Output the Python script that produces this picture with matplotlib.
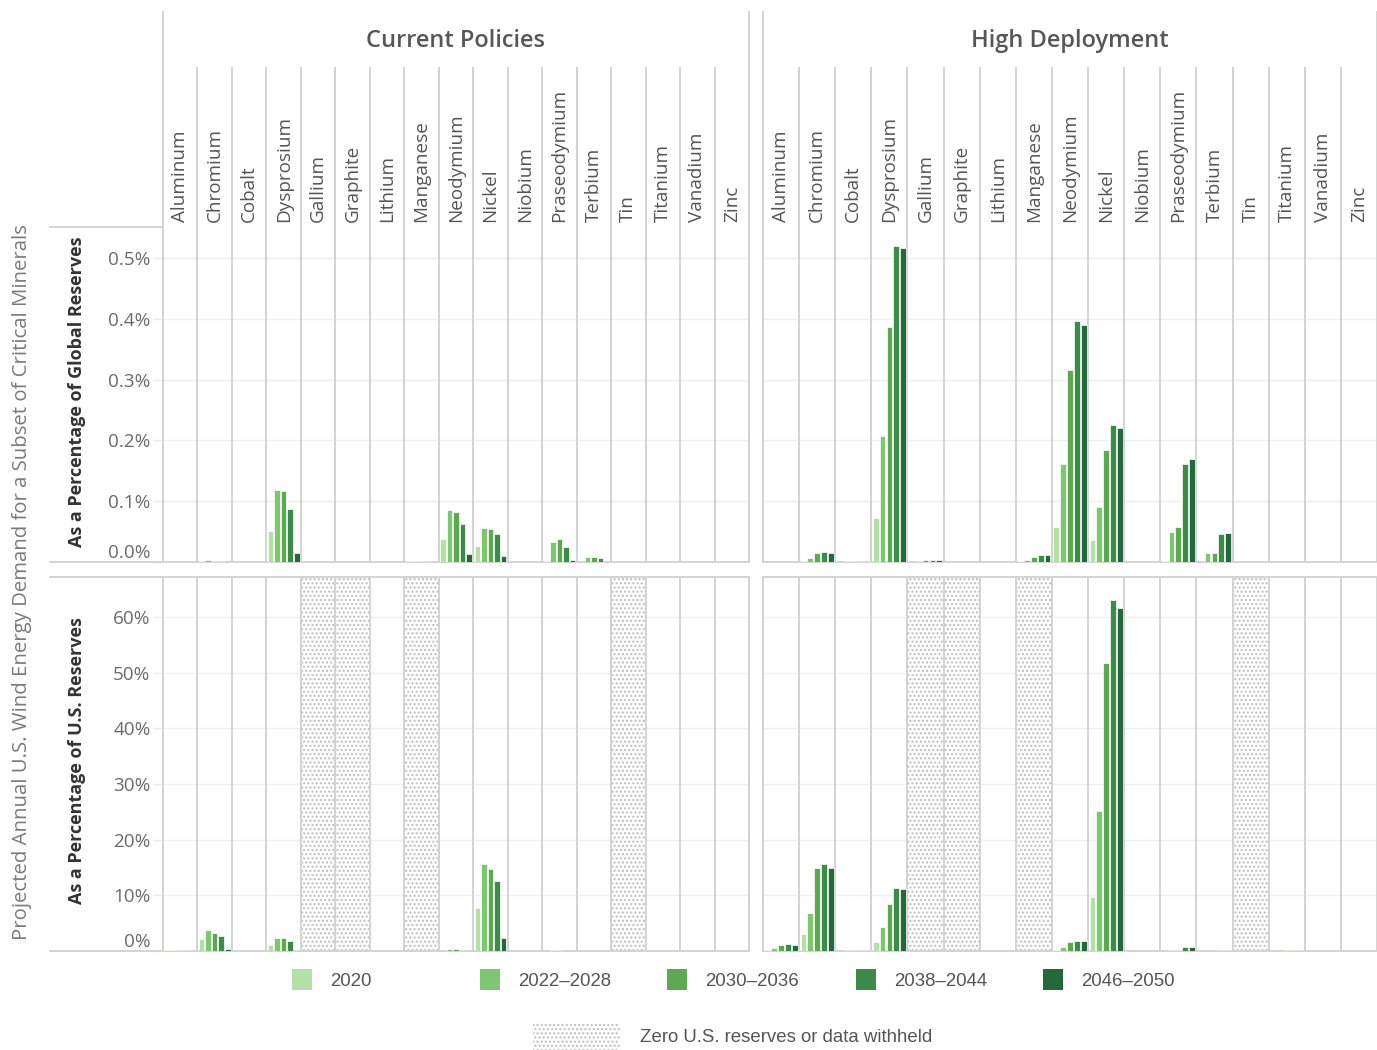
import matplotlib
matplotlib.use("Agg")
import matplotlib.pyplot as plt
import numpy as np
from matplotlib.patches import Rectangle

# ---------------------------------------------------------------- data
minerals = ["Aluminum", "Chromium", "Cobalt", "Dysprosium", "Gallium", "Graphite",
            "Lithium", "Manganese", "Neodymium", "Nickel", "Niobium", "Praseodymium",
            "Terbium", "Tin", "Titanium", "Vanadium", "Zinc"]
periods = ["2020", "2022–2028", "2030–2036", "2038–2044", "2046–2050"]
scenarios = ["Current Policies", "High Deployment"]
period_colors = ["#b3e0a6", "#7ec672", "#5ea852", "#3b8c48", "#23693b"]

# minerals with zero U.S. reserves or withheld data
no_us_reserves = ["Gallium", "Graphite", "Manganese", "Tin"]

# annual demand as % of global reserves; one row per period, one value per mineral
cp_global = [
    [0, 0.001, 0, 0.051, 0, 0, 0, 0.001, 0.038, 0.027, 0, 0.001, 0, 0, 0, 0, 0],
    [0, 0.004, 0, 0.118, 0, 0, 0, 0.001, 0.085, 0.056, 0, 0.033, 0.009, 0, 0, 0, 0],
    [0, 0.002, 0, 0.116, 0, 0, 0, 0.002, 0.082, 0.054, 0, 0.038, 0.009, 0, 0, 0, 0],
    [0, 0.002, 0, 0.087, 0, 0, 0, 0.002, 0.062, 0.046, 0, 0.025, 0.007, 0, 0, 0, 0],
    [0, 0, 0, 0.015, 0, 0, 0, 0, 0.013, 0.010, 0, 0.003, 0, 0, 0, 0, 0],
]
hd_global = [
    [0, 0.001, 0, 0.072, 0, 0, 0, 0.002, 0.058, 0.036, 0, 0.001, 0, 0, 0, 0, 0],
    [0, 0.0066, 0.002, 0.207, 0.001, 0, 0, 0.004, 0.161, 0.090, 0, 0.050, 0.015, 0, 0, 0, 0],
    [0, 0.014, 0.002, 0.387, 0.004, 0, 0, 0.009, 0.315, 0.184, 0, 0.058, 0.015, 0, 0, 0, 0],
    [0, 0.017, 0.002, 0.520, 0.004, 0, 0, 0.012, 0.397, 0.225, 0, 0.161, 0.046, 0, 0, 0, 0],
    [0, 0.014, 0.002, 0.516, 0.004, 0, 0, 0.012, 0.390, 0.220, 0, 0.169, 0.048, 0, 0, 0, 0],
]

# annual demand as % of U.S. reserves
cp_us = [
    [0.1, 2.1, 0, 1.0, 0, 0, 0, 0, 0.05, 7.8, 0, 0, 0, 0, 0, 0, 0],
    [0.1, 3.8, 0, 2.4, 0, 0, 0, 0, 0.4, 15.7, 0, 0.1, 0, 0, 0, 0, 0],
    [0.1, 3.2, 0, 2.4, 0, 0, 0, 0, 0.4, 14.8, 0, 0.1, 0, 0, 0, 0, 0],
    [0.1, 2.7, 0, 1.8, 0, 0, 0, 0, 0.15, 12.6, 0, 0, 0, 0, 0, 0, 0],
    [0, 0.4, 0, 0.15, 0, 0, 0, 0, 0, 2.4, 0, 0, 0, 0, 0, 0, 0],
]
hd_us = [
    [0.25, 3.0, 0, 1.6, 0, 0, 0, 0, 0.1, 9.7, 0, 0, 0, 0, 0, 0, 0],
    [0.5, 6.9, 0.1, 4.4, 0, 0, 0, 0, 0.7, 25.1, 0, 0.1, 0, 0, 0, 0, 0],
    [1.0, 15.0, 0.1, 8.4, 0, 0, 0, 0, 1.6, 51.8, 0, 0.1, 0, 0, 0.15, 0, 0],
    [1.3, 15.6, 0.1, 11.4, 0, 0, 0, 0, 1.85, 63.0, 0, 0.7, 0.15, 0, 0.15, 0, 0],
    [1.0, 15.0, 0.1, 11.1, 0, 0, 0, 0, 1.85, 61.6, 0, 0.7, 0.15, 0, 0.15, 0, 0],
]

global_ticks = [0.0, 0.1, 0.2, 0.3, 0.4, 0.5]
global_tick_labels = ["0.0%", "0.1%", "0.2%", "0.3%", "0.4%", "0.5%"]
us_ticks = [0, 10, 20, 30, 40, 50, 60]
us_tick_labels = ["0%", "10%", "20%", "30%", "40%", "50%", "60%"]

# ---------------------------------------------------------------- style
W, H = 1377, 1050
UI_FONT = ["Open Sans", "DejaVu Sans"]
LEGEND_FONT = ["Liberation Sans", "DejaVu Sans"]
LINE = "#d3d3d3"
GRID = "#efefef"
plt.rcParams["font.family"] = UI_FONT
plt.rcParams["hatch.linewidth"] = 1.0

fig = plt.figure(figsize=(W / 100, H / 100), dpi=100)
fig.patch.set_facecolor("white")


def px_axes(x0, y0, x1, y1):
    """Axes placed by pixel box (top-left origin)."""
    return fig.add_axes([x0 / W, 1 - y1 / H, (x1 - x0) / W, (y1 - y0) / H])


n = len(minerals)
xpos = np.arange(n)
slot = 0.19
bar_w = 0.16

panel_x = [(163, 749), (763, 1377)]
row_y = [(227, 562), (577, 951)]
row_data = [[cp_global, hd_global], [cp_us, hd_us]]
row_ylim = [0.551, 67.2]
row_ticks = [(global_ticks, global_tick_labels), (us_ticks, us_tick_labels)]

for r in range(2):
    y0, y1 = row_y[r]
    for c in range(2):
        x0, x1 = panel_x[c]
        ax = px_axes(x0, y0, x1, y1)
        ax.set_xlim(-0.5, n - 0.5)
        ax.set_ylim(0, row_ylim[r])
        ax.set_facecolor("none")

        # horizontal grid
        ticks, labels = row_ticks[r]
        for t in ticks[1:]:
            ax.axhline(t, color=GRID, lw=1.0, zorder=0)

        # column dividers
        for b in xpos[:-1] + 0.5:
            ax.axvline(b, color=LINE, lw=1.4, zorder=2)

        # zero-reserve shading in the U.S. row
        if r == 1:
            for name in no_us_reserves:
                i = minerals.index(name)
                ax.axvspan(i - 0.5, i + 0.5, facecolor="white", edgecolor="#bdbdbd",
                           hatch="....", linewidth=0, zorder=1)

        # bars
        data = row_data[r][c]
        for j, vals in enumerate(data):
            vals = np.asarray(vals, dtype=float)
            keep = vals > 0
            ax.bar(xpos[keep] + (j - 2) * slot, vals[keep], width=bar_w,
                   color=period_colors[j], edgecolor="white", linewidth=0.5,
                   zorder=3)

        for side in ["left", "right", "bottom", "top"]:
            ax.spines[side].set_color(LINE)
            ax.spines[side].set_linewidth(1.4)
        ax.spines["top"].set_visible(r == 1)
        ax.set_xticks([])
        if c == 0:
            ax.set_yticks(ticks)
            ax.set_yticklabels(labels)
            ax.tick_params(axis="y", length=7, width=1, color="#ececec", pad=2,
                           labelsize=13.6, labelcolor="#6a6a6a")
            first = ax.yaxis.get_major_ticks()[0].label1
            first.set_verticalalignment("bottom")
        else:
            ax.set_yticks([])

# ---------------------------------------------------------------- headers
for c in range(2):
    x0, x1 = panel_x[c]
    hx = px_axes(x0, 12, x1, 227)
    hx.set_xlim(-0.5, n - 0.5)
    hx.set_ylim(0, 215)
    hx.set_xticks([])
    hx.set_yticks([])
    for side in ["top", "bottom"]:
        hx.spines[side].set_visible(False)
    for side in ["left", "right"]:
        hx.spines[side].set_color(LINE)
        hx.spines[side].set_linewidth(1.4)
    for b in xpos[:-1] + 0.5:
        hx.plot([b, b], [0, 159], color=LINE, lw=1.4)
    hx.text((n - 1) / 2, 186, scenarios[c], ha="center", va="center",
            fontsize=17, fontweight="semibold", color="#575757")
    for i, name in enumerate(minerals):
        hx.text(i, 5, name, rotation=90, ha="center", va="bottom",
                fontsize=13.6, color="#555555")

# ---------------------------------------------------------------- row headers
row_titles = ["As a Percentage of Global Reserves", "As a Percentage of U.S. Reserves"]
for r in range(2):
    y0, y1 = row_y[r]
    rh = px_axes(50, y0, 163, y1)
    rh.set_xticks([])
    rh.set_yticks([])
    rh.set_facecolor("none")
    for side in ["left", "right"]:
        rh.spines[side].set_visible(False)
    for side in ["top", "bottom"]:
        rh.spines[side].set_color(LINE)
        rh.spines[side].set_linewidth(1.4)

fig.text(77 / W, 1 - 392 / H, row_titles[0], rotation=90, ha="center", va="center",
         fontsize=13, fontweight="bold", color="#333333")
fig.text(77 / W, 1 - 761 / H, row_titles[1], rotation=90, ha="center", va="center",
         fontsize=13, fontweight="bold", color="#333333")
fig.text(22 / W, 1 - 582 / H,
         "Projected Annual U.S. Wind Energy Demand for a Subset of Critical Minerals",
         rotation=90, ha="center", va="center", fontsize=14.7, color="#7a7a7a")

# ---------------------------------------------------------------- legend
lg = px_axes(0, 955, W, H)
lg.set_xlim(0, W)
lg.set_ylim(H, 955)
lg.axis("off")
key_x = [292, 480, 667, 856, 1043]
for kx, label, col in zip(key_x, periods, period_colors):
    lg.add_patch(Rectangle((kx, 969), 20, 21, facecolor=col, edgecolor="none"))
    lg.text(kx + 38, 981, label, ha="left", va="center", fontsize=13.4,
            color="#555555", family=LEGEND_FONT)
lg.add_patch(Rectangle((533, 1022), 87, 28, facecolor="white", edgecolor="#bdbdbd",
                       hatch="....", linewidth=0))
lg.text(640, 1038, "Zero U.S. reserves or data withheld", ha="left", va="center",
        fontsize=13.4, color="#555555", family=LEGEND_FONT)

fig.savefig("out.png", dpi=100)
